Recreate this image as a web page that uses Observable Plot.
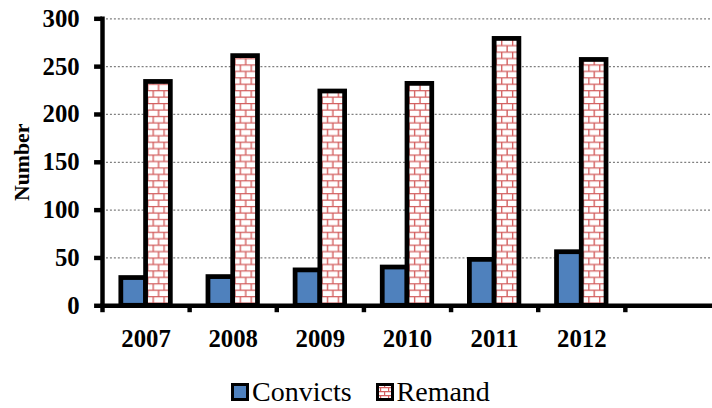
<!DOCTYPE html>
<html><head><meta charset="utf-8">
<script src="https://cdn.jsdelivr.net/npm/d3@7"></script>
<script src="https://cdn.jsdelivr.net/npm/@observablehq/plot@0.6"></script>
<style>
body{margin:0;background:#fff}
#wrap{position:relative;width:712px;height:408px;overflow:hidden;background:#fff}
#wrap, #wrap svg, #wrap text{font-family:"Liberation Serif","Times New Roman",Times,"Nimbus Roman","DejaVu Serif",serif}
#legend{position:absolute;left:231px;top:378px;height:28px;line-height:28px;font-size:28px;white-space:nowrap;color:#000}
.sw{display:inline-block;width:18px;height:18px;vertical-align:baseline}
</style>
</head><body>
<svg width="0" height="0" style="position:absolute">
  <defs>
    <pattern id="brick" patternUnits="userSpaceOnUse" width="11" height="13">
      <rect width="11" height="13" fill="#fff"/>
      <path d="M0 0.65H11M0 7.15H11M0.65 0V6.5M6.15 6.5V13" stroke="#d35f5f" stroke-width="1.4" fill="none"/>
    </pattern>
    <pattern id="brickSmall" patternUnits="userSpaceOnUse" width="8" height="8">
      <rect width="8" height="8" fill="#fff"/>
      <path d="M0 0.6H8M0 4.6H8M0.6 0V4M4.6 4V8" stroke="#d35f5f" stroke-width="1.2" fill="none"/>
    </pattern>
  </defs>
</svg>
<div id="wrap">
  <div id="chart"></div>
  <div id="legend"></div>
</div>
<script>
const years = ["2007", "2008", "2009", "2010", "2011", "2012"];
const convicts = [29, 30, 37, 40, 48, 56];
const remand = [234, 261, 224, 232, 279, 257];
const yTicks = [0, 50, 100, 150, 200, 250, 300];
const seriesNames = ["Convicts", "Remand"];
const seriesColors = ["#4f81bd", "url(#brick)"];

const serif = '"Liberation Serif","Times New Roman",Times,"Nimbus Roman","DejaVu Serif",serif';
const xDomain = [...years, ""];
const convictsData = years.map((year, i) => ({year, value: convicts[i]}));
const remandData = years.map((year, i) => ({year, value: remand[i]}));

const chart = Plot.plot({
  width: 719,
  height: 355,
  marginLeft: 103,
  marginRight: 0,
  marginTop: 18.5,
  marginBottom: 46.7,
  style: {fontFamily: serif, color: "#000", background: "transparent"},
  x: {domain: xDomain, padding: 0, label: null},
  y: {domain: [0, 300], label: null},
  marks: [
    Plot.gridY(yTicks.slice(1), {stroke: "#7f7f7f", strokeOpacity: 1, strokeWidth: 1.3, strokeDasharray: "2,2"}),
    Plot.barY(convictsData, {x: "year", y: "value", fill: seriesColors[0], stroke: "#000", strokeWidth: 4.8, insetLeft: 19, insetRight: 44}),
    Plot.barY(remandData, {x: "year", y: "value", fill: seriesColors[1], stroke: "#000", strokeWidth: 4.8, insetLeft: 44, insetRight: 19}),
    Plot.frame({anchor: "left", stroke: "#000", strokeWidth: 4.5, strokeLinecap: "square"}),
    Plot.frame({anchor: "bottom", stroke: "#000", strokeWidth: 4.5, strokeLinecap: "square"}),
    Plot.axisY({ticks: yTicks, tickSize: 8, tickPadding: 15, strokeWidth: 4.5, fontSize: 25, fontWeight: "bold", fontFamily: serif, label: null}),
    Plot.axisY({ticks: [], label: "Number", labelAnchor: "center", labelArrow: "none", labelOffset: 90, fontSize: 22, fontWeight: "bold", fontFamily: serif}),
    Plot.axisX({tickSize: 7, dx: -44, tickFormat: () => "", strokeWidth: 4.5, label: null}),
    Plot.axisX(years, {tickSize: 0, tickPadding: 24, fontSize: 25, fontWeight: "bold", fontFamily: serif, label: null})
  ]
});
document.getElementById("chart").appendChild(chart);

const legend = document.getElementById("legend");
seriesNames.forEach((name, i) => {
  const item = document.createElement("span");
  item.style.marginRight = i === 0 ? "24px" : "0";
  item.innerHTML = `<svg class="sw" width="18" height="18"><rect x="1.5" y="1.5" width="15" height="15" fill="${i === 0 ? seriesColors[0] : "url(#brickSmall)"}" stroke="#000" stroke-width="3"/></svg><span style="margin-left:3px">${name}</span>`;
  legend.appendChild(item);
});
</script>
</body></html>
